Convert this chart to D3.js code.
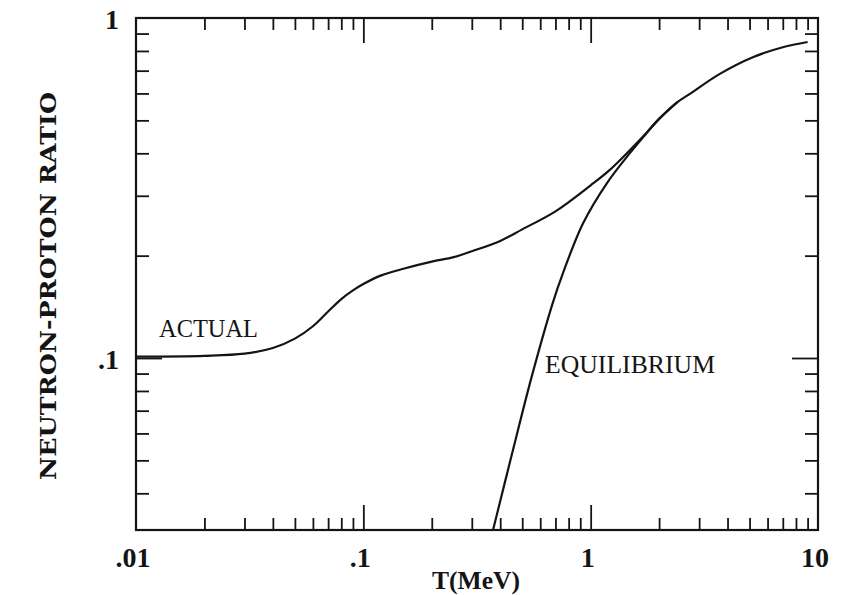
<!DOCTYPE html>
<html>
<head>
<meta charset="utf-8">
<script src="https://cdn.jsdelivr.net/npm/d3@7"></script>
<style>
  html, body { margin: 0; padding: 0; background: #fff; }
  svg { display: block; }
</style>
</head>
<body>
<svg class="chart" width="846" height="595"></svg>
<script>
// temperature (MeV) and neutron/proton ratio
const actualT = [0.01, 0.02, 0.03, 0.04, 0.05, 0.06, 0.07, 0.08, 0.09, 0.1, 0.12, 0.15, 0.2, 0.25, 0.3, 0.4, 0.5, 0.7, 1.0, 1.2, 1.49, 1.7, 2.0, 2.4, 2.7, 3.7, 5.2, 7.0, 9.0];
const actualRatio = [0.101, 0.1015, 0.103, 0.107, 0.114, 0.124, 0.137, 0.149, 0.158, 0.165, 0.175, 0.183, 0.192, 0.198, 0.206, 0.221, 0.239, 0.27, 0.322, 0.355, 0.409, 0.448, 0.505, 0.565, 0.595, 0.685, 0.768, 0.82, 0.85];

const equilT = [0.372, 0.45, 0.55, 0.683, 0.756, 0.926, 1.18, 1.49, 1.7, 2.0, 2.4];
const equilRatio = [0.0312, 0.052, 0.088, 0.146, 0.178, 0.249, 0.327, 0.401, 0.446, 0.505, 0.565];

const xMajor = [0.01, 0.1, 1, 10];
const xMajorLabels = [".01", ".1", "1", "10"];
const yMajor = [0.1, 1];
const yMajorLabels = [".1", "1"];

const svg = d3.select(".chart");
const ink = "#141414";

const x = d3.scaleLog().domain([0.01, 10]).range([136, 818]);
const y = d3.scaleLog().domain([0.0312, 1]).range([530, 18]);

// minor ticks: 2..9 in each decade
const xMinor = [];
[0.01, 0.1, 1].forEach(d => { for (let k = 2; k <= 9; k++) xMinor.push(d * k); });
const yMinor = [];
for (let k = 4; k <= 9; k++) yMinor.push(0.01 * k);
for (let k = 2; k <= 9; k++) yMinor.push(0.1 * k);

function styleAxis(g) {
  g.select(".domain").remove();
  g.selectAll("line").attr("stroke", ink).attr("stroke-width", 1.8);
  g.selectAll("text").remove();
}

// bottom and top ticks (pointing inward)
svg.append("g").attr("transform", "translate(0,530)")
  .call(d3.axisBottom(x).tickValues(xMinor).tickSize(-12)).call(styleAxis);
svg.append("g").attr("transform", "translate(0,530)")
  .call(d3.axisBottom(x).tickValues([0.1, 1]).tickSize(-25)).call(styleAxis);
svg.append("g").attr("transform", "translate(0,18)")
  .call(d3.axisTop(x).tickValues(xMinor).tickSize(-12)).call(styleAxis);
svg.append("g").attr("transform", "translate(0,18)")
  .call(d3.axisTop(x).tickValues([0.1, 1]).tickSize(-25)).call(styleAxis);

// left and right ticks
svg.append("g").attr("transform", "translate(136,0)")
  .call(d3.axisLeft(y).tickValues(yMinor).tickSize(-13)).call(styleAxis);
svg.append("g").attr("transform", "translate(136,0)")
  .call(d3.axisLeft(y).tickValues([0.1]).tickSize(-26)).call(styleAxis);
svg.append("g").attr("transform", "translate(818,0)")
  .call(d3.axisRight(y).tickValues(yMinor).tickSize(-13)).call(styleAxis);
svg.append("g").attr("transform", "translate(818,0)")
  .call(d3.axisRight(y).tickValues([0.1]).tickSize(-26)).call(styleAxis);

// frame
svg.append("rect")
  .attr("x", 136).attr("y", 18)
  .attr("width", 818 - 136).attr("height", 530 - 18)
  .attr("fill", "none").attr("stroke", ink).attr("stroke-width", 2.2);

// curves
svg.append("clipPath").attr("id", "plot")
  .append("rect").attr("x", 136).attr("y", 18).attr("width", 682).attr("height", 512);

const line = d3.line()
  .x(d => x(d[0]))
  .y(d => y(d[1]))
  .curve(d3.curveCatmullRom.alpha(0.5));

svg.append("path")
  .attr("d", line(d3.zip(actualT, actualRatio)))
  .attr("clip-path", "url(#plot)")
  .attr("fill", "none").attr("stroke", ink).attr("stroke-width", 2.2);

svg.append("path")
  .attr("d", line(d3.zip(equilT, equilRatio)))
  .attr("clip-path", "url(#plot)")
  .attr("fill", "none").attr("stroke", ink).attr("stroke-width", 2.2);

// tick labels
const tickFont = "'Liberation Serif', 'DejaVu Serif', serif";
svg.selectAll(".xlab").data(xMajor).enter().append("text")
  .attr("x", d => x(d) - 3).attr("y", 567)
  .attr("text-anchor", "middle")
  .attr("font-family", tickFont).attr("font-weight", "bold").attr("font-size", 28)
  .attr("fill", ink)
  .text((d, i) => xMajorLabels[i]);

svg.selectAll(".ylab").data(yMajor).enter().append("text")
  .attr("x", 119).attr("y", d => y(d) + 11)
  .attr("text-anchor", "end")
  .attr("font-family", tickFont).attr("font-weight", "bold").attr("font-size", 28)
  .attr("fill", ink)
  .text((d, i) => yMajorLabels[i]);

// axis titles
svg.append("text")
  .attr("x", 476).attr("y", 589)
  .attr("text-anchor", "middle")
  .attr("font-family", tickFont).attr("font-weight", "bold").attr("font-size", 26)
  .attr("textLength", 88).attr("lengthAdjust", "spacingAndGlyphs")
  .attr("fill", ink)
  .text("T(MeV)");

svg.append("text")
  .attr("transform", "translate(56,286) rotate(-90)")
  .attr("text-anchor", "middle")
  .attr("font-family", "'DejaVu Serif', serif").attr("font-weight", "bold").attr("font-size", 23)
  .attr("textLength", 388).attr("lengthAdjust", "spacingAndGlyphs")
  .attr("fill", ink)
  .text("NEUTRON-PROTON RATIO");

// curve labels
svg.append("text")
  .attr("x", 159).attr("y", 337)
  .attr("font-family", tickFont).attr("font-size", 26)
  .attr("textLength", 99).attr("lengthAdjust", "spacingAndGlyphs")
  .attr("fill", ink)
  .text("ACTUAL");

svg.append("text")
  .attr("x", 545).attr("y", 373)
  .attr("font-family", tickFont).attr("font-size", 26)
  .attr("textLength", 170).attr("lengthAdjust", "spacingAndGlyphs")
  .attr("fill", ink)
  .text("EQUILIBRIUM");
</script>
</body>
</html>
